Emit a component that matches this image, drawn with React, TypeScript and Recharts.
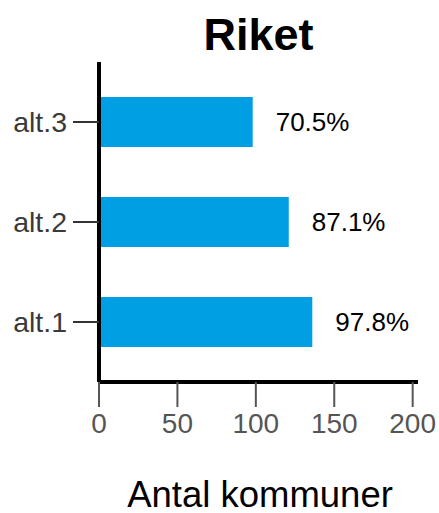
import React from "react";
import { BarChart, Bar, XAxis, YAxis, LabelList } from "recharts";

const categories = ["alt.3", "alt.2", "alt.1"];
const counts = [98, 121, 136];
const shares = ["70.5%", "87.1%", "97.8%"];
const xTicks = [0, 50, 100, 150, 200];

const data = categories.map((c, i) => ({ name: c, value: counts[i], share: shares[i] }));

const FONT = "'Liberation Sans', Arial, Helvetica, sans-serif";

const ShareLabel = (props: any) => {
  const { x, y, width, height, index } = props;
  return (
    <text
      x={Number(x) + Number(width) + 23}
      y={Number(y) + Number(height) / 2}
      dominantBaseline="central"
      fontSize={26}
      fontFamily={FONT}
      fill="#000"
    >
      {data[index].share}
    </text>
  );
};

export default function App() {
  return (
    <div style={{ position: "absolute", left: 0, top: 0 }}>
      <BarChart
        width={439}
        height={513}
        data={data}
        layout="vertical"
        margin={{ top: 62, right: 21, bottom: 71, left: 0 }}
        barSize={50}
      >
        <text
          x={258.5}
          y={50}
          textAnchor="middle"
          fontSize={45}
          fontWeight="bold"
          fontFamily={FONT}
          fill="#000"
        >
          Riket
        </text>
        <text
          x={260}
          y={506.5}
          textAnchor="middle"
          fontSize={36.5}
          fontFamily={FONT}
          fill="#000"
        >
          Antal kommuner
        </text>
        <XAxis
          type="number"
          domain={[0, 203.4]}
          ticks={xTicks}
          height={60}
          axisLine={{ stroke: "#000", strokeWidth: 4 }}
          tickLine={{ stroke: "#555", strokeWidth: 2 }}
          tickSize={25}
          tickMargin={6}
          tick={{ fontSize: 28, fill: "#555", fontFamily: FONT }}
          interval={0}
        />
        <YAxis
          type="category"
          dataKey="name"
          width={99}
          padding={{ top: 10, bottom: 10 }}
          axisLine={{ stroke: "#000", strokeWidth: 4 }}
          tickLine={{ stroke: "#333", strokeWidth: 2 }}
          tickSize={26}
          tickMargin={6}
          tick={{ fontSize: 28.5, fill: "#3a3a3a", fontFamily: FONT }}
          interval={0}
        />
        <Bar dataKey="value" fill="#009FE3" isAnimationActive={false}>
          <LabelList dataKey="value" content={ShareLabel} />
        </Bar>
      </BarChart>
    </div>
  );
}
